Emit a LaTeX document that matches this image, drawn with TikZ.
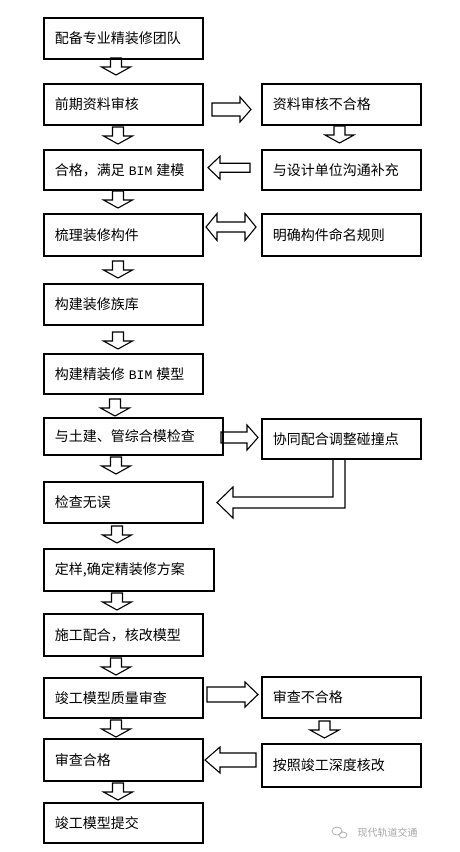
\documentclass[tikz,border=0pt]{standalone}
\usepackage{fontspec}
\setmainfont{Noto Sans CJK SC}
\newfontfamily\latinmono{Liberation Mono}
\usetikzlibrary{calc}

\tikzset{
  box/.style={draw, line width=1.8pt, anchor=north west, align=left,
    inner xsep=11pt, inner ysep=0pt, font=\fontsize{14}{16}\selectfont},
  blk/.style={draw, line width=1.1pt, line join=miter}
}
% block arrow pointing down: centre x, top y
\newcommand{\downblk}[2]{%
  \draw[blk] (#1-5.5,#2) -- (#1+5.5,#2) -- (#1+5.5,#2+9) -- (#1+14.5,#2+9)
    -- (#1,#2+17) -- (#1-14.5,#2+9) -- (#1-5.5,#2+9) -- cycle;}
% block arrow sideways: tail x, head base x, tip x, centre y, half shaft, half head
\newcommand{\sideblk}[6]{%
  \draw[blk] (#1,#4-#5) -- (#2,#4-#5) -- (#2,#4-#6) -- (#3,#4)
    -- (#2,#4+#6) -- (#2,#4+#5) -- (#1,#4+#5) -- cycle;}
\newcommand{\bim}{\hspace{4pt}{\latinmono\fontsize{13}{16}\selectfont BIM}\hspace{4pt}}

\begin{document}
\begin{tikzpicture}[x=1pt, y=-1pt]
    \useasboundingbox[fill=white] (0,0) rectangle (460,852);
    % main column
    \node[box, text width=137pt, minimum height=41pt] (team) at (43,17) {配备专业精装修团队};
    \node[box, text width=137pt, minimum height=41pt] (review) at (43,83) {前期资料审核};
    \node[box, text width=137pt, minimum height=40pt] (pass) at (43,149) {合格，满足\bim 建模};
    \node[box, text width=137pt, minimum height=42pt] (parts) at (43,213) {梳理装修构件};
    \node[box, text width=137pt, minimum height=41pt] (family) at (43,283) {构建装修族库};
    \node[box, text width=137pt, minimum height=40pt] (model) at (43,353) {构建精装修\bim 模型};
    \node[box, text width=157pt, minimum height=37pt] (check) at (43,417) {与土建、管综合模检查};
    \node[box, text width=137pt, minimum height=41pt] (noerr) at (43,481) {检查无误};
    \node[box, text width=148pt, minimum height=42pt] (sample) at (43,548) {定样,确定精装修方案};
    \node[box, text width=137pt, minimum height=42pt] (build) at (43,613) {施工配合，核改模型};
    \node[box, text width=137pt, minimum height=40pt] (asbuilt) at (43,677) {竣工模型质量审查};
    \node[box, text width=137pt, minimum height=42pt] (ok) at (43,738) {审查合格};
    \node[box, text width=137pt, minimum height=40pt] (submit) at (43,802) {竣工模型提交};
    % side column
    \node[box, text width=137pt, minimum height=41pt] (fail) at (261,83) {资料审核不合格};
    \node[box, text width=137pt, minimum height=40pt] (design) at (261,149) {与设计单位沟通补充};
    \node[box, text width=137pt, minimum height=42pt] (naming) at (261,213) {明确构件命名规则};
    \node[box, text width=137pt, minimum height=40pt] (clash) at (261,418) {协同配合调整碰撞点};
    \node[box, text width=137pt, minimum height=41pt] (nopass) at (261,676) {审查不合格};
    \node[box, text width=137pt, minimum height=43pt] (redo) at (261,743) {按照竣工深度核改};

    % down arrows
    \downblk{116}{58}
    \downblk{118}{127}
    \downblk{118}{191}
    \downblk{118}{261}
    \downblk{118}{332}
    \downblk{115}{399}
    \downblk{116}{457}
    \downblk{117}{526}
    \downblk{117}{593}
    \downblk{116}{658}
    \downblk{116}{720}
    \downblk{118}{783}
    \downblk{339.5}{126}
    \downblk{324.5}{721}

    % side arrows
    \sideblk{212}{240}{251}{109.5}{6.5}{12.5}
    \sideblk{250}{220}{208}{167.7}{4.5}{11.5}
    \sideblk{221}{247}{258}{437.5}{5.5}{12.5}
    \sideblk{207}{245}{258}{694.5}{7.5}{12.5}
    \sideblk{256}{220}{205}{760}{7}{13}
    \draw[blk] (206,227) -- (217,213.5) -- (217,222) -- (245,222) -- (245,213.5)
      -- (256,227) -- (245,240.5) -- (245,232) -- (217,232) -- (217,240.5) -- cycle;
    % bent arrow back to the check result
    \draw[blk] (clash.south -| 333,0) -- (333,497) -- (233,497) -- (233,487) -- (217,502.5)
      -- (233,518) -- (233,508) -- (345,508) -- (clash.south -| 345,0);

    % watermark
    \node[text=black!35, font=\fontsize{10}{12}\selectfont, anchor=west] (mark) at (354,833) {现代轨道交通};
    \draw[black!30, line width=0.8pt] (337,831) ellipse (5 and 4) (343,835) ellipse (4 and 3);
\end{tikzpicture}
\end{document}
